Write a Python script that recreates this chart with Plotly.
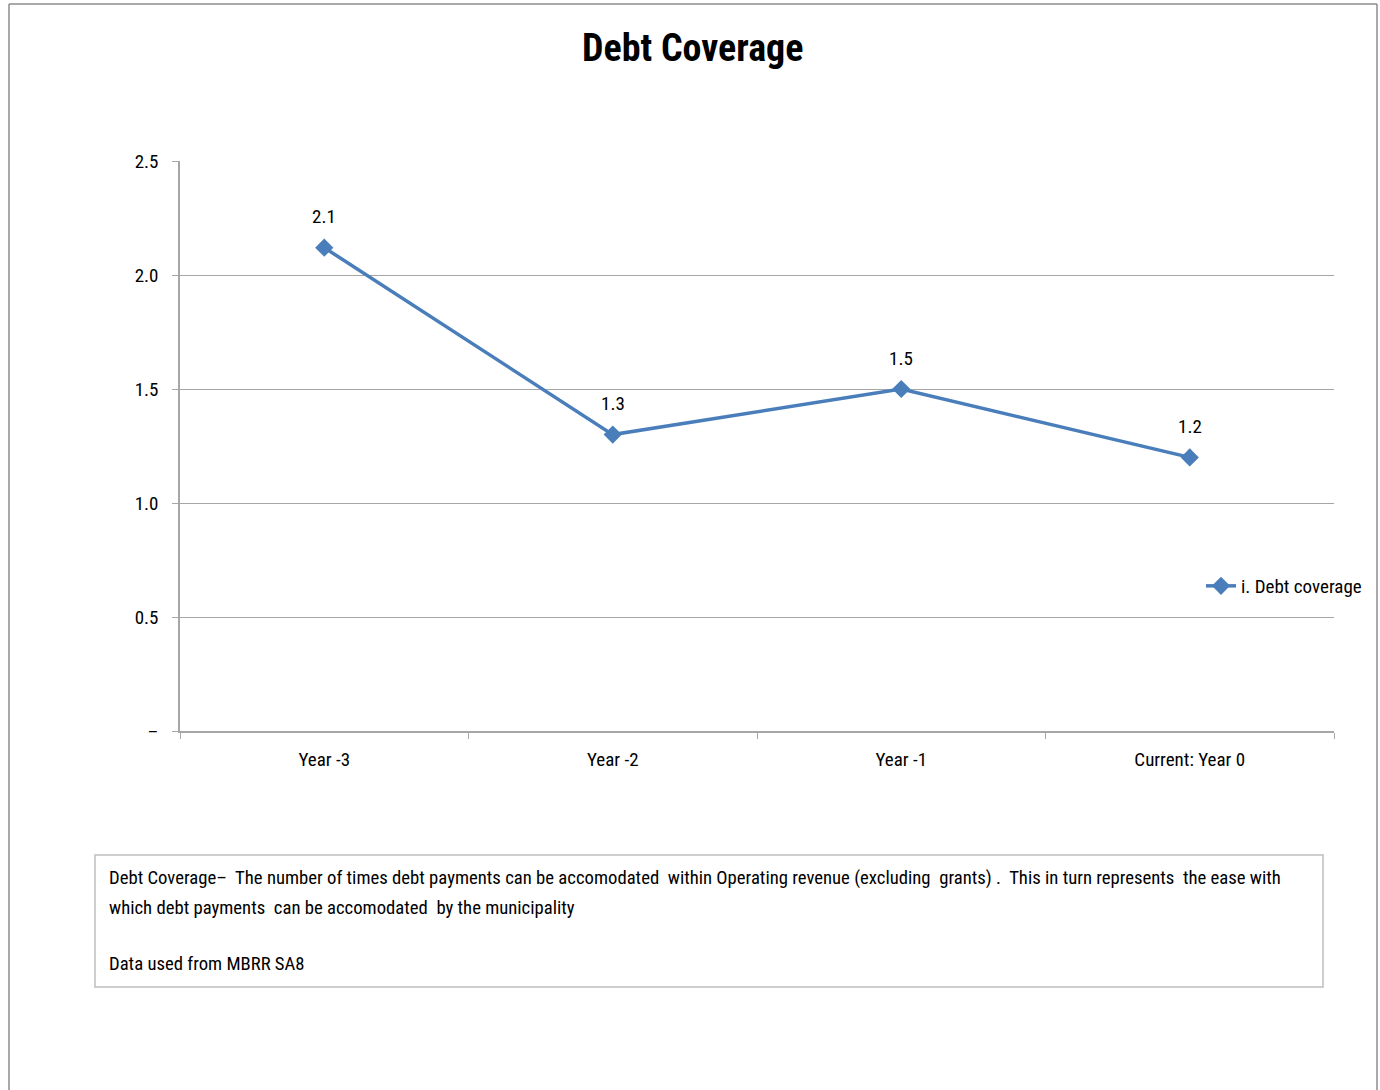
import plotly.graph_objects as go

# Debt coverage ratio by year
categories = ["Year -3", "Year -2", "Year -1", "Current: Year 0"]
debt_coverage = [2.12, 1.3, 1.5, 1.2]
y_tick_values = [0, 0.5, 1.0, 1.5, 2.0, 2.5]
y_tick_labels = ["–", "0.5", "1.0", "1.5", "2.0", "2.5"]
series_name = "i. Debt coverage"
title_text = "Debt Coverage"
note_lines = [
    "Debt Coverage–  The number of times debt payments can be accomodated  within Operating revenue (excluding  grants) .  This in turn represents  the ease with",
    "which debt payments  can be accomodated  by the municipality",
    "Data used from MBRR SA8",
]

FONT = "Roboto Condensed, Liberation Sans Narrow, Arial Narrow, Roboto, sans-serif"
W, H = 1380, 1090
L, R, T, B = 180, 1334, 161, 731
LINE_BLUE = "#4a7ebb"
GRID = "#a6a6a6"


def px_x(p):
    return (p - L) / (R - L)


def px_y(p):
    return (B - p) / (B - T)


fig = go.Figure()
fig.add_trace(go.Scatter(
    x=categories,
    y=debt_coverage,
    mode="lines+markers",
    name=series_name,
    line=dict(color=LINE_BLUE, width=3.5),
    marker=dict(symbol="diamond", size=14, color=LINE_BLUE),
    cliponaxis=False,
))

shapes = [
    # outer frame of the page
    dict(type="line", xref="paper", yref="paper", x0=px_x(9), x1=px_x(9), y0=px_y(4), y1=px_y(1095),
         line=dict(color="#8c8c8c", width=1.5)),
    dict(type="line", xref="paper", yref="paper", x0=px_x(9), x1=px_x(1377), y0=px_y(4), y1=px_y(4),
         line=dict(color="#8c8c8c", width=1.5)),
    dict(type="line", xref="paper", yref="paper", x0=px_x(1377), x1=px_x(1377), y0=px_y(4), y1=px_y(1095),
         line=dict(color="#8c8c8c", width=1.5)),
    # note box
    dict(type="rect", xref="paper", yref="paper", x0=px_x(95), x1=px_x(1323), y0=px_y(855), y1=px_y(987),
         line=dict(color="#bfbfbf", width=1.5), fillcolor="rgba(0,0,0,0)"),
]

annotations = [
    dict(text=f"<b>{title_text}</b>", xref="paper", yref="paper", x=px_x(692), y=px_y(48),
         xanchor="center", yanchor="middle", showarrow=False,
         font=dict(family=FONT, size=38, color="#000000")),
]
# value labels above each point
for cat, val in zip(categories, debt_coverage):
    annotations.append(dict(text=f"{val:.1f}", x=cat, y=val, xref="x", yref="y",
                            showarrow=False, yshift=31, yanchor="middle",
                            font=dict(family=FONT, size=19, color="#000000")))
for text, ypx in zip(note_lines, [878, 908, 964]):
    annotations.append(dict(text=text, xref="paper", yref="paper", x=px_x(107), y=px_y(ypx),
                            xanchor="left", yanchor="middle", showarrow=False,
                            font=dict(family=FONT, size=18.7, color="#000000")))

fig.update_layout(
    width=W, height=H,
    margin=dict(l=L, r=W - R, t=T, b=H - B),
    paper_bgcolor="white",
    plot_bgcolor="white",
    showlegend=True,
    legend=dict(x=px_x(1201), y=px_y(586), xanchor="left", yanchor="middle",
                font=dict(family=FONT, size=19, color="#000000"),
                bgcolor="rgba(0,0,0,0)", itemwidth=30),
    shapes=shapes,
    annotations=annotations,
    xaxis=dict(
        type="category",
        showgrid=False,
        showline=True, linecolor=GRID, linewidth=1.5,
        ticks="outside", tickson="boundaries", ticklen=6, tickcolor=GRID,
        ticklabelstandoff=10,
        tickfont=dict(family=FONT, size=19, color="#000000"),
        range=[-0.5, 3.5],
        fixedrange=True,
    ),
    yaxis=dict(
        range=[0, 2.5],
        tickvals=y_tick_values, ticktext=y_tick_labels,
        showgrid=True, gridcolor=GRID, gridwidth=1,
        showline=True, linecolor=GRID, linewidth=1.5,
        ticks="outside", ticklen=6, tickcolor=GRID,
        ticklabelstandoff=10,
        tickfont=dict(family=FONT, size=19, color="#000000"),
        zeroline=False,
        fixedrange=True,
    ),
)

fig.write_html("out.html")
